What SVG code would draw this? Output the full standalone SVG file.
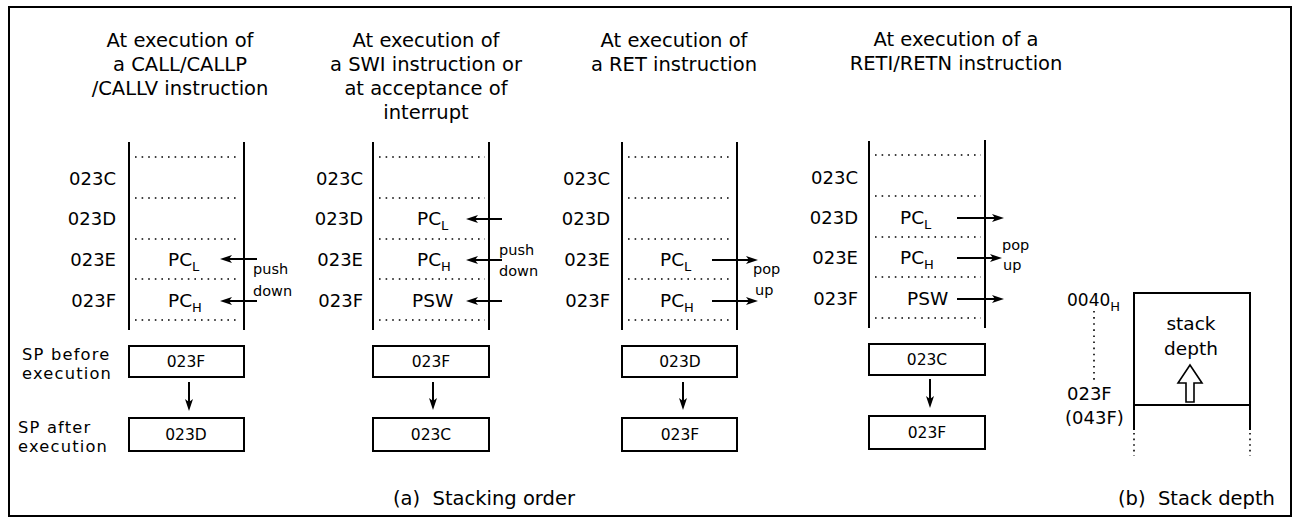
<svg xmlns="http://www.w3.org/2000/svg" width="1300" height="521" viewBox="0 0 1300 521">
<defs>
<style>
text{font-family:"DejaVu Sans","Noto Sans",sans-serif;fill:#000}
.t{font-size:19.5px;text-anchor:middle}
.lb{font-size:18px;text-anchor:end}
.pc{font-size:18.5px}
.sub{font-size:13px}
.sm{font-size:14.5px}
.sp{font-size:16.3px;letter-spacing:1.2px}
.bx{font-size:15.5px;text-anchor:middle}
.col{stroke:#000;stroke-width:2;fill:none}
.dot{stroke:#000;stroke-width:1.6;stroke-dasharray:1.6 5;fill:none}
.box{stroke:#000;stroke-width:2;fill:#fff}
.ar{stroke:#000;stroke-width:2;fill:none;marker-end:url(#ah)}
</style>
<marker id="ah" viewBox="0 0 12 10" refX="8" refY="5" markerWidth="12" markerHeight="10" markerUnits="userSpaceOnUse" orient="auto">
<path d="M0,1 L12,5 L0,9 L3,5 Z" fill="#000"/>
</marker>
</defs>
<rect x="9" y="7" width="1282" height="509" fill="#fff" stroke="#000" stroke-width="2"/>

<g id="panel1">
<text class="t" x="180" y="47">At execution of</text>
<text class="t" x="180" y="71">a CALL/CALLP</text>
<text class="t" x="180" y="95">/CALLV instruction</text>
<line class="col" x1="129" y1="142" x2="129" y2="330"/>
<line class="col" x1="244" y1="142" x2="244" y2="330"/>
<line class="dot" x1="135" y1="157" x2="240" y2="157"/>
<line class="dot" x1="135" y1="198" x2="240" y2="198"/>
<line class="dot" x1="135" y1="239" x2="240" y2="239"/>
<line class="dot" x1="135" y1="279" x2="240" y2="279"/>
<line class="dot" x1="135" y1="320" x2="240" y2="320"/>
<text class="lb" x="116" y="185">023C</text>
<text class="lb" x="116" y="225">023D</text>
<text class="lb" x="116" y="266">023E</text>
<text class="lb" x="116" y="307">023F</text>
<text class="pc" x="168" y="266">PC<tspan class="sub" dy="5">L</tspan></text>
<text class="pc" x="168" y="307">PC<tspan class="sub" dy="5">H</tspan></text>
<text class="sm" x="253" y="274">push</text>
<text class="sm" x="253" y="296">down</text>
<text class="sp" x="22" y="360">SP  before</text>
<text class="sp" x="22" y="379">execution</text>
<text class="sp" x="18" y="433">SP after</text>
<text class="sp" x="18" y="452">execution</text>
</g>
<g id="box1a"><rect class="box" x="129" y="346" width="115" height="31"/><text class="bx" x="186" y="367">023F</text></g>
<g id="box1b"><rect class="box" x="129" y="418" width="115" height="33"/><text class="bx" x="186" y="440">023D</text></g>

<g id="panel2">
<text class="t" x="426" y="47">At execution of</text>
<text class="t" x="426" y="71">a SWI instruction or</text>
<text class="t" x="426" y="95">at acceptance of</text>
<text class="t" x="426" y="119">interrupt</text>
<line class="col" x1="373" y1="142" x2="373" y2="330"/>
<line class="col" x1="489" y1="142" x2="489" y2="330"/>
<line class="dot" x1="379" y1="157" x2="485" y2="157"/>
<line class="dot" x1="379" y1="198" x2="485" y2="198"/>
<line class="dot" x1="379" y1="239" x2="485" y2="239"/>
<line class="dot" x1="379" y1="279" x2="485" y2="279"/>
<line class="dot" x1="379" y1="320" x2="485" y2="320"/>
<text class="lb" x="363" y="185">023C</text>
<text class="lb" x="363" y="225">023D</text>
<text class="lb" x="363" y="266">023E</text>
<text class="lb" x="363" y="307">023F</text>
<text class="pc" x="417" y="225">PC<tspan class="sub" dy="5">L</tspan></text>
<text class="pc" x="417" y="266">PC<tspan class="sub" dy="5">H</tspan></text>
<text class="pc" x="412" y="307">PSW</text>
<text class="sm" x="499" y="255">push</text>
<text class="sm" x="499" y="276">down</text>
</g>
<g id="box2a"><rect class="box" x="373" y="346" width="116" height="31"/><text class="bx" x="431" y="367">023F</text></g>
<g id="box2b"><rect class="box" x="373" y="418" width="116" height="33"/><text class="bx" x="431" y="440">023C</text></g>

<g id="panel3">
<text class="t" x="674" y="47">At execution of</text>
<text class="t" x="674" y="71">a RET instruction</text>
<line class="col" x1="622" y1="142" x2="622" y2="330"/>
<line class="col" x1="737" y1="142" x2="737" y2="330"/>
<line class="dot" x1="628" y1="157" x2="733" y2="157"/>
<line class="dot" x1="628" y1="198" x2="733" y2="198"/>
<line class="dot" x1="628" y1="239" x2="733" y2="239"/>
<line class="dot" x1="628" y1="279" x2="733" y2="279"/>
<line class="dot" x1="628" y1="320" x2="733" y2="320"/>
<text class="lb" x="610" y="185">023C</text>
<text class="lb" x="610" y="225">023D</text>
<text class="lb" x="610" y="266">023E</text>
<text class="lb" x="610" y="307">023F</text>
<text class="pc" x="660" y="266">PC<tspan class="sub" dy="5">L</tspan></text>
<text class="pc" x="660" y="307">PC<tspan class="sub" dy="5">H</tspan></text>
<text class="sm" x="753" y="274">pop</text>
<text class="sm" x="755" y="295">up</text>
</g>
<g id="box3a"><rect class="box" x="622" y="346" width="115" height="31"/><text class="bx" x="680" y="367">023D</text></g>
<g id="box3b"><rect class="box" x="622" y="418" width="115" height="33"/><text class="bx" x="680" y="440">023F</text></g>

<g id="panel4">
<text class="t" x="956" y="46">At execution of a</text>
<text class="t" x="956" y="70">RETI/RETN instruction</text>
<line class="col" x1="869" y1="141" x2="869" y2="328"/>
<line class="col" x1="985" y1="140" x2="985" y2="328"/>
<line class="dot" x1="875" y1="155" x2="981" y2="155"/>
<line class="dot" x1="875" y1="196" x2="981" y2="196"/>
<line class="dot" x1="875" y1="237" x2="981" y2="237"/>
<line class="dot" x1="875" y1="277" x2="981" y2="277"/>
<line class="dot" x1="875" y1="318" x2="981" y2="318"/>
<text class="lb" x="858" y="184">023C</text>
<text class="lb" x="858" y="224">023D</text>
<text class="lb" x="858" y="264">023E</text>
<text class="lb" x="858" y="305">023F</text>
<text class="pc" x="900" y="224">PC<tspan class="sub" dy="5">L</tspan></text>
<text class="pc" x="900" y="264">PC<tspan class="sub" dy="5">H</tspan></text>
<text class="pc" x="907" y="305">PSW</text>
<text class="sm" x="1002" y="250">pop</text>
<text class="sm" x="1003" y="270">up</text>
</g>
<g id="box4a"><rect class="box" x="869" y="344" width="116" height="31"/><text class="bx" x="927" y="365">023C</text></g>
<g id="box4b"><rect class="box" x="869" y="416" width="116" height="33"/><text class="bx" x="927" y="438">023F</text></g>

<g id="stackdepth">
<text style="font-size:17px" x="1067" y="306">0040<tspan class="sub" dy="5">H</tspan></text>
<line class="dot" x1="1094" y1="311" x2="1094" y2="380" style="stroke-dasharray:1.6 4.5"/>
<text style="font-size:18px" x="1067" y="400">023F</text>
<text style="font-size:18px" x="1065" y="424">(043F)</text>
<line class="col" x1="1133" y1="293" x2="1251" y2="293"/>
<line class="col" x1="1134" y1="292" x2="1134" y2="430"/>
<line class="col" x1="1250" y1="292" x2="1250" y2="430"/>
<line class="col" x1="1134" y1="405" x2="1250" y2="405"/>
<line class="dot" x1="1134" y1="433" x2="1134" y2="456" style="stroke-dasharray:1.6 4"/>
<line class="dot" x1="1250" y1="433" x2="1250" y2="456" style="stroke-dasharray:1.6 4"/>
<text style="font-size:18.5px;text-anchor:middle" x="1191" y="330">stack</text>
<text style="font-size:18.5px;text-anchor:middle" x="1191" y="355">depth</text>
<polygon points="1190,365 1202,383 1194,383 1194,402 1186,402 1186,383 1178,383" fill="#fff" stroke="#000" stroke-width="1.6"/>
</g>

<g id="captions">
<text style="font-size:19.5px" x="393" y="505" xml:space="preserve">(a)  Stacking order</text>
<text style="font-size:19.5px" x="1118" y="505" xml:space="preserve">(b)  Stack depth</text>
</g>

<g id="connectors">
<line class="ar" x1="257" y1="259" x2="224" y2="259"/>
<line class="ar" x1="257" y1="301" x2="224" y2="301"/>
<line class="ar" x1="502" y1="219" x2="470" y2="219"/>
<line class="ar" x1="502" y1="260" x2="470" y2="260"/>
<line class="ar" x1="502" y1="301" x2="470" y2="301"/>
<line class="ar" x1="712" y1="260" x2="754" y2="260"/>
<line class="ar" x1="712" y1="301" x2="754" y2="301"/>
<line class="ar" x1="957" y1="218" x2="1000" y2="218"/>
<line class="ar" x1="957" y1="258" x2="998" y2="258"/>
<line class="ar" x1="957" y1="299" x2="1000" y2="299"/>
<line class="ar" x1="189" y1="382" x2="189" y2="407"/>
<line class="ar" x1="433" y1="382" x2="433" y2="406"/>
<line class="ar" x1="683" y1="382" x2="683" y2="406"/>
<line class="ar" x1="930" y1="379" x2="930" y2="404"/>
</g>
</svg>
